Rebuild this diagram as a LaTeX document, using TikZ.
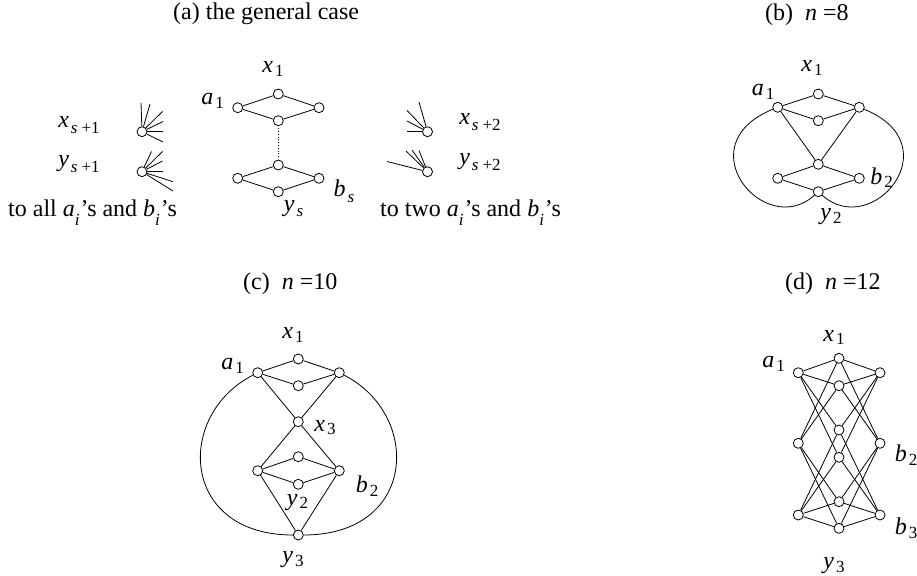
\documentclass[tikz,border=0pt]{standalone}
\usepackage{fontspec}
\setmainfont{Liberation Serif}
\newcommand{\subfs}{\fontsize{17}{17}\selectfont}
\newcommand{\vl}[2]{\textit{#1}\kern2pt\raisebox{-3.5pt}{\subfs #2}}
\newcommand{\vls}[2]{\textit{#1}\kern2pt\raisebox{-6pt}{\subfs\textit{s}\hspace{4pt}+#2}}
\newcommand{\ai}[1]{\textit{#1}\raisebox{-9pt}{\subfs\textit{i}}\kern1pt’s}
\begin{document}
\begin{tikzpicture}[x=1pt,y=-1pt,
  vtx/.style={circle,draw,line width=0.8pt,inner sep=0pt,minimum size=10pt,fill=white},
  edge/.style={line width=0.8pt},
  txt/.style={inner sep=0pt,font=\fontsize{24}{28}\selectfont},
]
\useasboundingbox (0,0) rectangle (917,575);

% titles
\node[txt,anchor=base west] (ta) at (173,19.5) {(a) the general case};
\node[txt,anchor=base west] (tb) at (765,21) {(b)\hspace{0.5em}\textit{n}\hspace{0.25em}=8};
\node[txt,anchor=base west] (tc) at (243,289) {(c)\hspace{0.5em}\textit{n}\hspace{0.25em}=10};
\node[txt,anchor=base west] (td) at (785,289) {(d)\hspace{0.5em}\textit{n}\hspace{0.25em}=12};

% ---------- (a) ----------
\node[vtx] (Ax1) at (278.3,94) {};
\node[vtx] (Aa1) at (237.7,107.7) {};
\node[vtx] (Ab1) at (319,107.7) {};
\node[vtx] (Ay1) at (278.3,120.7) {};
\node[vtx] (Axs) at (278.3,165) {};
\node[vtx] (Aas) at (237.7,178.3) {};
\node[vtx] (Abs) at (319,178.3) {};
\node[vtx] (Ays) at (278.3,191.7) {};
\foreach \u/\v in {Aa1/Ax1,Ax1/Ab1,Aa1/Ay1,Ay1/Ab1,Aas/Axs,Axs/Abs,Aas/Ays,Ays/Abs}
  \draw[edge] (\u) -- (\v);
\draw[edge,dotted,shorten <=2pt,shorten >=3pt] (Ay1) -- (Axs);
\node[txt] (lAx1) at (273,69) {\vl{x}{1}};
\node[txt] (lAa1) at (212.5,101) {\vl{a}{1}};
\node[txt] (lAbs) at (344,191) {\textit{b}\kern2pt\raisebox{-6pt}{\subfs\textit{s}}};
\node[txt] (lAys) at (293.5,209) {\textit{y}\kern2pt\raisebox{-5pt}{\subfs\textit{s}}};

% stars
\node[vtx] (S1) at (142,131.7) {};
\node[vtx] (S2) at (142,171.7) {};
\node[vtx] (S3) at (427.5,131.7) {};
\node[vtx] (S4) at (427.5,171.7) {};
\foreach \i/\xx/\yy in {1/141/103,2/150/104,3/162.5/111.5,4/163/121.5,5/163/131.7,6/163/142}{
  \coordinate (r1\i) at (\xx,\yy); \draw[edge] (S1) -- (r1\i);}
\foreach \i/\xx/\yy in {1/151.5/151.5,2/162.5/151.5,3/162.5/161,4/162.5/171.7,5/173/181.7,6/173/191}{
  \coordinate (r2\i) at (\xx,\yy); \draw[edge] (S2) -- (r2\i);}
\foreach \i/\xx/\yy in {1/419/102,2/407/110.5,3/407/121,4/407/131.7}{
  \coordinate (r3\i) at (\xx,\yy); \draw[edge] (S3) -- (r3\i);}
\foreach \i/\xx/\yy in {1/387/161.5,2/406/151,3/412/150,4/419/150.5}{
  \coordinate (r4\i) at (\xx,\yy); \draw[edge] (S4) -- (r4\i);}
\node[txt] (lS1) at (79,125) {\vls{x}{1}};
\node[txt] (lS2) at (79,164) {\vls{y}{1}};
\node[txt] (lS3) at (480,122) {\vls{x}{2}};
\node[txt] (lS4) at (480,162) {\vls{y}{2}};
\node[txt,anchor=base west] (tall) at (8,216) {to all \ai{a} and \ai{b}};
\node[txt,anchor=base west] (ttwo) at (380,216) {to two \ai{a} and \ai{b}};

% ---------- (b) ----------
\node[vtx] (Bx1) at (818.3,94) {};
\node[vtx] (Ba1) at (777.7,107.3) {};
\node[vtx] (Bb1) at (859.3,107.3) {};
\node[vtx] (By1) at (818.3,120.7) {};
\node[vtx] (Bx2) at (818.3,164.3) {};
\node[vtx] (Ba2) at (777.7,178.3) {};
\node[vtx] (Bb2) at (859.3,178.3) {};
\node[vtx] (By2) at (818.3,191.7) {};
\foreach \u/\v in {Ba1/Bx1,Bx1/Bb1,Ba1/By1,By1/Bb1,Ba2/Bx2,Bx2/Bb2,Ba2/By2,By2/Bb2,Ba1/Bx2,Bb1/Bx2}
  \draw[edge] (\u) -- (\v);
\draw[edge] (Ba1) .. controls (685,145) and (765,240) .. (By2);
\draw[edge] (Bb1) .. controls (952,145) and (872,240) .. (By2);
\node[txt] (lBx1) at (812,68) {\vl{x}{1}};
\node[txt] (lBa1) at (763,91.7) {\vl{a}{1}};
\node[txt] (lBb2) at (881.7,177.5) {\vl{b}{2}};
\node[txt] (lBy2) at (831,216.7) {\vl{y}{2}};

% ---------- (c) ----------
\node[vtx] (Cx1) at (298.3,359) {};
\node[vtx] (Ca1) at (257.7,372.7) {};
\node[vtx] (Cb1) at (339.3,372.7) {};
\node[vtx] (Cy1) at (298.3,385.7) {};
\node[vtx] (Cx3) at (298.3,421.7) {};
\node[vtx] (Cx2) at (298.3,456.7) {};
\node[vtx] (Ca2) at (257.7,470.7) {};
\node[vtx] (Cb2) at (339.3,470.7) {};
\node[vtx] (Cy2) at (298.3,484.3) {};
\node[vtx] (Cy3) at (298.3,535) {};
\foreach \u/\v in {Ca1/Cx1,Cx1/Cb1,Ca1/Cy1,Cy1/Cb1,Ca1/Cx3,Cb1/Cx3,Cx3/Ca2,Cx3/Cb2,
  Ca2/Cx2,Cx2/Cb2,Ca2/Cy2,Cy2/Cb2,Ca2/Cy3,Cb2/Cy3}
  \draw[edge] (\u) -- (\v);
\draw[edge] (Ca1) .. controls (175,415) and (180,535) .. (Cy3);
\draw[edge] (Cb1) .. controls (422,415) and (417,535) .. (Cy3);
\node[txt] (lCx1) at (293,335) {\vl{x}{1}};
\node[txt] (lCa1) at (232.5,366) {\vl{a}{1}};
\node[txt] (lCx3) at (325,427.5) {\vl{x}{3}};
\node[txt] (lCb2) at (367,486) {\vl{b}{2}};
\node[txt] (lCy2) at (297.5,502.5) {\vl{y}{2}};
\node[txt] (lCy3) at (293,560) {\vl{y}{3}};

% ---------- (d) ----------
\node[vtx] (Dx1) at (839,358.3) {};
\node[vtx] (Da1) at (798.3,372.7) {};
\node[vtx] (Db1) at (880,372.7) {};
\node[vtx] (Dy1) at (839,385.7) {};
\node[vtx] (Dx2) at (839,430) {};
\node[vtx] (Dy2) at (839,457.3) {};
\node[vtx] (Da2) at (798.3,443.3) {};
\node[vtx] (Db2) at (880,443.3) {};
\node[vtx] (Dx3) at (839,501.7) {};
\node[vtx] (Da3) at (798.3,515) {};
\node[vtx] (Db3) at (880,515) {};
\node[vtx] (Dy3) at (839,528.3) {};
\foreach \u/\v in {Da1/Dx1,Dx1/Db1,Da1/Dy1,Dy1/Db1,Da3/Dx3,Dx3/Db3,Da3/Dy3,Dy3/Db3,
  Da1/Dx2,Db1/Dx2,Da3/Dx2,Db3/Dx2,Da1/Dy2,Db1/Dy2,Da3/Dy2,Db3/Dy2,
  Da2/Dx1,Db2/Dx1,Da2/Dy1,Db2/Dy1,Da2/Dx3,Db2/Dx3,Da2/Dy3,Db2/Dy3}
  \draw[edge] (\u) -- (\v);
\node[txt] (lDx1) at (834,337.5) {\vl{x}{1}};
\node[txt] (lDa1) at (773.5,364) {\vl{a}{1}};
\node[txt] (lDb2) at (906,455) {\vl{b}{2}};
\node[txt] (lDb3) at (906,528) {\vl{b}{3}};
\node[txt] (lDy3) at (834,566) {\vl{y}{3}};
\end{tikzpicture}
\end{document}
